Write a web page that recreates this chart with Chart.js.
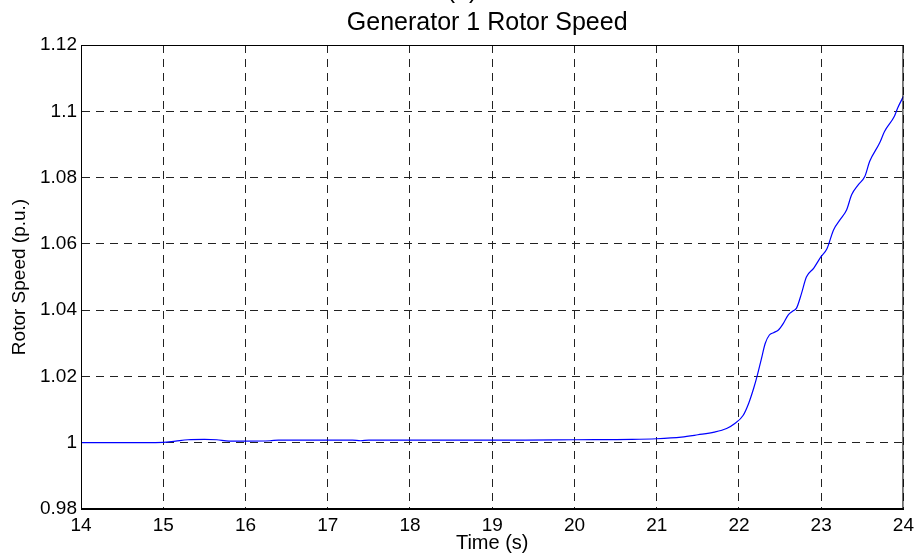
<!DOCTYPE html>
<html>
<head>
<meta charset="utf-8">
<script src="https://cdn.jsdelivr.net/npm/chart.js@4"></script>
<style>
  html, body { margin: 0; padding: 0; background: #fff; }
  #wrap { width: 919px; height: 558px; }
</style>
</head>
<body>
<div id="wrap"><canvas id="rotorChart"></canvas></div>
<script>
// values
const timeValues = [14.0, 14.5, 15.0, 15.15, 15.3, 15.5, 15.65, 15.8, 16.0, 16.3, 16.4, 17.0, 17.3, 17.4, 17.5,
  18.0, 19.0, 19.4, 20.0, 20.7, 21.0, 21.3, 21.5, 21.7, 21.85, 21.95, 22.05, 22.12, 22.18, 22.22, 22.27,
  22.32, 22.37, 22.42, 22.48, 22.54, 22.6, 22.66, 22.7, 22.76, 22.82, 22.91, 23.0, 23.07, 23.15, 23.23,
  23.31, 23.37, 23.45, 23.53, 23.59, 23.71, 23.77, 23.89, 23.93, 24.0];
const speedValues = [1.0, 1.0, 1.0001, 1.0005, 1.0009, 1.001, 1.0009, 1.0005, 1.0005, 1.0006, 1.0008, 1.0008, 1.0008, 1.0006, 1.0008,
  1.0008, 1.0008, 1.0008, 1.0009, 1.001, 1.0012, 1.0017, 1.0024, 1.0032, 1.0043, 1.0058, 1.0082, 1.012, 1.0165, 1.02, 1.025,
  1.03, 1.0325, 1.0332, 1.034, 1.036, 1.0386, 1.0398, 1.0406, 1.045, 1.05, 1.0527, 1.0562, 1.0585, 1.0642, 1.0673,
  1.0703, 1.0748, 1.0778, 1.0803, 1.0849, 1.0904, 1.0939, 1.0985, 1.101, 1.1045];
const xTicks = [14, 15, 16, 17, 18, 19, 20, 21, 22, 23, 24];
const yTicks = [0.98, 1, 1.02, 1.04, 1.06, 1.08, 1.1, 1.12];

const FONT = "'Liberation Sans', Arial, sans-serif";

// frame + title drawn on top (matlab style box)
const boxPlugin = {
  id: 'boxPlugin',
  afterDraw(chart) {
    const { ctx, chartArea } = chart;
    ctx.save();
    ctx.strokeStyle = '#000';
    ctx.lineWidth = 1;
    ctx.setLineDash([]);
    ctx.strokeRect(chartArea.left + 0.5, chartArea.top + 0.5,
      chartArea.right - chartArea.left - 1, chartArea.bottom - chartArea.top - 1);
    ctx.fillStyle = '#000';
    ctx.textAlign = 'center';
    ctx.textBaseline = 'alphabetic';
    const cx = (chartArea.left + chartArea.right) / 2;
    ctx.font = '25px ' + FONT;
    ctx.fillText('(a)', 462, -2);
    ctx.fillText('Generator 1 Rotor Speed', cx - 5, 30);
    ctx.restore();
  }
};

new Chart(document.getElementById('rotorChart'), {
  type: 'line',
  data: {
    datasets: [{
      label: 'Rotor Speed',
      data: timeValues.map((t, i) => ({ x: t, y: speedValues[i] })),
      borderColor: '#0000ff',
      borderWidth: 1.2,
      pointRadius: 0,
      cubicInterpolationMode: 'monotone',
      fill: false
    }]
  },
  options: {
    responsive: true,
    maintainAspectRatio: false,
    animation: false,
    layout: { padding: { top: 45, right: 12, left: 0, bottom: 0 } },
    plugins: {
      legend: { display: false },
      title: { display: false },
      tooltip: { enabled: false }
    },
    scales: {
      x: {
        type: 'linear',
        min: 14,
        max: 24,
        afterBuildTicks: s => { s.ticks = xTicks.map(v => ({ value: v })); },
        afterFit: s => { s.height = 49; },
        grid: { color: '#222', drawTicks: false },
        border: { display: true, color: '#000', dash: [8, 6] },
        ticks: { color: '#000', font: { family: FONT, size: 19 }, padding: 5, maxRotation: 0 },
        title: { display: true, text: 'Time (s)', color: '#000', font: { family: FONT, size: 20 }, padding: { top: 0, bottom: 3 } }
      },
      y: {
        min: 0.98,
        max: 1.12,
        afterBuildTicks: s => { s.ticks = yTicks.map(v => ({ value: v })); },
        afterFit: s => { s.width = 81; },
        grid: { color: '#222', drawTicks: false },
        border: { display: true, color: '#000', dash: [8, 6] },
        ticks: { color: '#000', font: { family: FONT, size: 19 }, padding: 4, callback: v => String(Math.round(v * 100) / 100) },
        title: { display: true, text: 'Rotor Speed (p.u.)', color: '#000', font: { family: FONT, size: 19 }, padding: { top: 8, bottom: 0 } }
      }
    }
  },
  plugins: [boxPlugin]
});
</script>
</body>
</html>
